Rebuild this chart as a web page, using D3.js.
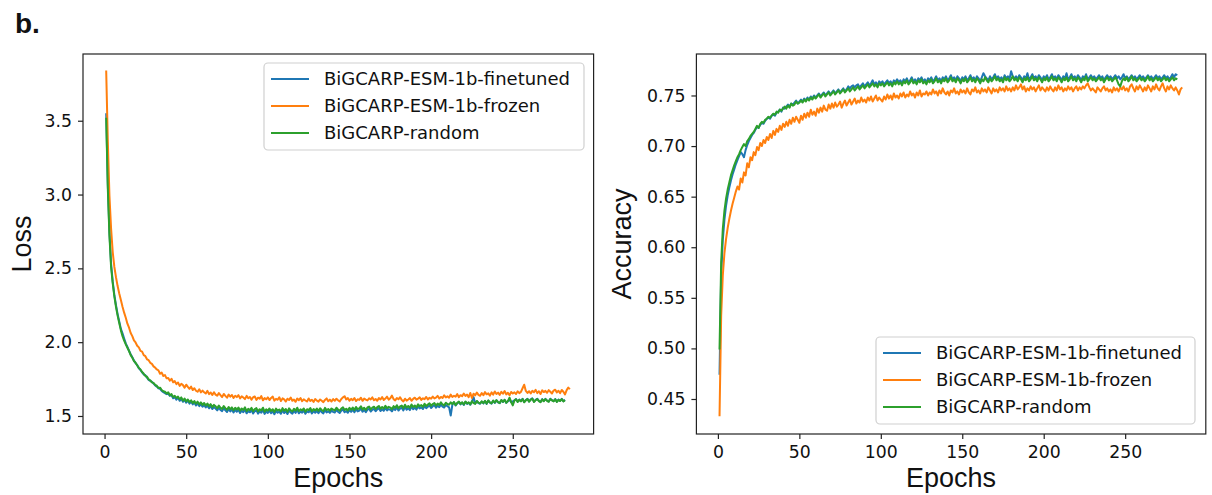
<!DOCTYPE html>
<html>
<head>
<meta charset="utf-8">
<script src="https://cdn.jsdelivr.net/npm/d3@7"></script>
<style>
  body { margin: 0; background: #fff; }
  text { fill: #111; }
</style>
</head>
<body>
<script>
// series labels and tick values
const seriesLabels = ['BiGCARP-ESM-1b-finetuned', 'BiGCARP-ESM-1b-frozen', 'BiGCARP-random']
const epochTicks = [0, 50, 100, 150, 200, 250]
const lossTicks = [1.5, 2.0, 2.5, 3.0, 3.5]
const accTicks = [0.45, 0.50, 0.55, 0.60, 0.65, 0.70, 0.75]

// loss per epoch (epoch 1 first)
const lossFinetuned = [
3.55,3.07,2.74,2.53,2.41,2.32,2.25,2.19,2.14,2.09,
2.06,2.025,1.992,1.968,1.942,1.918,1.898,1.876,1.858,1.845,
1.823,1.812,1.795,1.781,1.776,1.759,1.745,1.738,1.731,1.719,
1.707,1.699,1.688,1.684,1.67,1.662,1.655,1.648,1.651,1.636,
1.641,1.62,1.628,1.611,1.623,1.603,1.617,1.596,1.609,1.59,
1.603,1.584,1.596,1.579,1.59,1.571,1.585,1.567,1.579,1.563,
1.574,1.558,1.57,1.552,1.566,1.547,1.561,1.55,1.538,1.557,
1.541,1.533,1.553,1.538,1.527,1.547,1.531,1.543,1.524,1.541,
1.529,1.542,1.52,1.536,1.526,1.545,1.518,1.533,1.525,1.54,
1.517,1.532,1.538,1.516,1.531,1.522,1.541,1.514,1.53,1.521,
1.536,1.519,1.531,1.512,1.535,1.522,1.529,1.515,1.538,1.52,
1.532,1.513,1.537,1.524,1.516,1.534,1.521,1.541,1.518,1.53,
1.523,1.536,1.515,1.531,1.525,1.539,1.517,1.532,1.522,1.535,
1.519,1.537,1.526,1.518,1.54,1.524,1.532,1.521,1.536,1.528,
1.523,1.541,1.529,1.52,1.536,1.544,1.526,1.534,1.522,1.54,
1.528,1.542,1.525,1.546,1.531,1.537,1.551,1.529,1.541,1.526,
1.543,1.549,1.53,1.542,1.548,1.532,1.545,1.553,1.534,1.546,
1.535,1.554,1.538,1.547,1.542,1.531,1.552,1.54,1.558,1.537,
1.55,1.556,1.538,1.561,1.543,1.553,1.54,1.563,1.546,1.556,
1.543,1.564,1.551,1.559,1.547,1.568,1.553,1.562,1.571,1.554,
1.566,1.573,1.556,1.569,1.56,1.578,1.563,1.557,1.575,1.566,
1.558,1.503,1.576,1.592,1.571,1.586,1.594,1.579,1.59,1.575,
1.595,1.582,1.59,1.576,1.597,1.628,1.584,1.6,1.588,1.583,
1.597,1.585,1.601,1.582,1.604,1.59,1.584,1.603,1.589,1.606,
1.593,1.587,1.607,1.595,1.609,1.589,1.6,1.611,1.594,1.598,
1.606,1.615,1.597,1.611,1.601,1.617,1.595,1.608,1.616,1.599,
1.612,1.619,1.597,1.609,1.617,1.603,1.595,1.614,1.602,1.616,
1.605,1.598,1.617,1.607,1.601,1.615,1.597,1.611,1.603,1.616,
1.601,1.609
]
const lossFrozen = [
3.84,3.36,2.99,2.77,2.61,2.51,2.44,2.38,2.33,2.285,
2.24,2.2,2.165,2.125,2.098,2.062,2.041,2.012,1.998,1.976,
1.965,1.941,1.936,1.912,1.905,1.884,1.878,1.86,1.853,1.836,
1.828,1.815,1.809,1.786,1.794,1.771,1.777,1.755,1.758,1.739,
1.752,1.728,1.736,1.716,1.727,1.704,1.718,1.709,1.692,1.712,
1.697,1.684,1.699,1.676,1.688,1.671,1.664,1.681,1.66,1.672,
1.661,1.652,1.67,1.648,1.659,1.642,1.661,1.645,1.637,1.655,
1.641,1.628,1.649,1.636,1.624,1.645,1.631,1.642,1.622,1.637,
1.628,1.641,1.619,1.633,1.625,1.614,1.636,1.62,1.629,1.611,
1.627,1.632,1.609,1.624,1.617,1.635,1.606,1.621,1.613,1.626,
1.608,1.622,1.631,1.604,1.616,1.61,1.627,1.601,1.619,1.612,
1.598,1.617,1.608,1.625,1.603,1.611,1.596,1.618,1.607,1.622,
1.6,1.613,1.605,1.598,1.619,1.602,1.61,1.595,1.615,1.604,
1.597,1.612,1.603,1.594,1.609,1.619,1.6,1.611,1.598,1.614,
1.603,1.617,1.607,1.598,1.615,1.626,1.634,1.612,1.621,1.604,
1.616,1.607,1.622,1.601,1.613,1.609,1.624,1.603,1.618,1.611,
1.605,1.62,1.612,1.626,1.607,1.615,1.603,1.621,1.612,1.628,
1.609,1.618,1.631,1.611,1.62,1.638,1.614,1.606,1.622,1.613,
1.627,1.608,1.599,1.617,1.604,1.612,1.621,1.603,1.616,1.624,
1.611,1.618,1.626,1.609,1.62,1.614,1.629,1.612,1.623,1.617,
1.631,1.619,1.625,1.636,1.618,1.629,1.622,1.64,1.626,1.633,
1.624,1.645,1.629,1.637,1.631,1.648,1.627,1.641,1.634,1.652,
1.636,1.645,1.628,1.656,1.622,1.651,1.64,1.659,1.643,1.637,
1.655,1.641,1.662,1.647,1.653,1.638,1.66,1.645,1.666,1.649,
1.658,1.643,1.664,1.651,1.669,1.646,1.657,1.64,1.663,1.652,
1.66,1.649,1.667,1.655,1.663,1.688,1.712,1.67,1.656,1.668,
1.652,1.671,1.661,1.677,1.655,1.668,1.649,1.674,1.662,1.67,
1.657,1.675,1.664,1.652,1.672,1.678,1.66,1.671,1.655,1.676,
1.664,1.646,1.675,1.692,1.682
]
const lossRandom = [
3.52,3.04,2.72,2.51,2.40,2.31,2.24,2.18,2.13,2.08,
2.04,2.01,1.985,1.962,1.94,1.912,1.895,1.872,1.861,1.842,
1.826,1.815,1.798,1.786,1.771,1.766,1.748,1.742,1.728,1.724,
1.71,1.705,1.69,1.692,1.676,1.668,1.664,1.652,1.66,1.641,
1.648,1.629,1.637,1.622,1.631,1.613,1.626,1.604,1.618,1.599,
1.612,1.594,1.606,1.588,1.601,1.583,1.597,1.579,1.592,1.575,
1.588,1.571,1.584,1.567,1.58,1.56,1.575,1.566,1.552,1.571,
1.556,1.547,1.567,1.553,1.542,1.561,1.546,1.558,1.539,1.556,
1.544,1.557,1.536,1.551,1.541,1.559,1.533,1.548,1.54,1.555,
1.532,1.547,1.553,1.531,1.546,1.538,1.556,1.529,1.545,1.536,
1.551,1.534,1.546,1.527,1.55,1.537,1.544,1.53,1.553,1.535,
1.547,1.528,1.552,1.539,1.531,1.549,1.536,1.556,1.533,1.545,
1.538,1.551,1.529,1.546,1.54,1.554,1.532,1.547,1.537,1.55,
1.534,1.552,1.541,1.533,1.555,1.539,1.547,1.536,1.551,1.543,
1.538,1.556,1.544,1.535,1.551,1.559,1.541,1.549,1.537,1.555,
1.543,1.557,1.54,1.561,1.546,1.552,1.566,1.544,1.556,1.541,
1.558,1.564,1.545,1.557,1.563,1.547,1.56,1.568,1.549,1.561,
1.55,1.569,1.553,1.562,1.557,1.546,1.567,1.555,1.573,1.552,
1.565,1.571,1.553,1.576,1.558,1.568,1.555,1.578,1.561,1.571,
1.558,1.579,1.566,1.574,1.562,1.583,1.568,1.577,1.586,1.569,
1.581,1.588,1.571,1.584,1.575,1.593,1.578,1.572,1.59,1.581,
1.576,1.592,1.581,1.595,1.574,1.589,1.597,1.582,1.593,1.578,
1.598,1.585,1.593,1.579,1.6,1.588,1.582,1.602,1.59,1.585,
1.599,1.587,1.603,1.584,1.605,1.592,1.586,1.604,1.591,1.607,
1.594,1.588,1.608,1.596,1.61,1.59,1.601,1.624,1.595,1.572,
1.604,1.613,1.595,1.609,1.599,1.615,1.593,1.606,1.614,1.597,
1.61,1.617,1.595,1.607,1.615,1.601,1.593,1.612,1.6,1.614,
1.603,1.596,1.615,1.605,1.599,1.613,1.595,1.609,1.601,1.614,
1.599,1.607
]

// accuracy per epoch (epoch 1 first)
const accFinetuned = [
0.474,0.572,0.607,0.627,0.641,0.651,0.659,0.666,0.672,0.677,
0.682,0.686,0.690,0.694,0.692,0.689,0.696,0.701,0.705,0.708,
0.711,0.713,0.716,0.719,0.718,0.721,0.723,0.722,0.725,0.727,
0.728,0.727,0.73,0.731,0.73,0.733,0.734,0.736,0.734,0.738,
0.737,0.739,0.741,0.739,0.742,0.741,0.743,0.745,0.742,0.744,
0.746,0.744,0.747,0.745,0.748,0.746,0.749,0.747,0.75,0.748,
0.75,0.752,0.749,0.751,0.753,0.75,0.752,0.754,0.751,0.753,
0.755,0.752,0.754,0.756,0.753,0.755,0.757,0.754,0.756,0.759,
0.757,0.759,0.76,0.758,0.76,0.761,0.758,0.76,0.762,0.759,
0.761,0.763,0.76,0.762,0.765,0.761,0.763,0.76,0.764,0.762,
0.764,0.761,0.763,0.765,0.762,0.764,0.761,0.765,0.763,0.766,
0.763,0.765,0.762,0.766,0.764,0.767,0.763,0.765,0.768,0.764,
0.766,0.763,0.767,0.765,0.768,0.764,0.766,0.763,0.767,0.765,
0.768,0.764,0.766,0.769,0.765,0.767,0.764,0.768,0.766,0.769,
0.765,0.767,0.77,0.766,0.768,0.765,0.769,0.767,0.764,0.768,
0.766,0.769,0.765,0.767,0.77,0.766,0.768,0.765,0.769,0.767,
0.764,0.768,0.772,0.769,0.767,0.765,0.769,0.766,0.768,0.771,
0.767,0.769,0.766,0.768,0.765,0.77,0.767,0.769,0.766,0.774,
0.769,0.767,0.769,0.766,0.77,0.768,0.765,0.769,0.767,0.772,
0.766,0.768,0.771,0.767,0.769,0.766,0.77,0.768,0.765,0.769,
0.767,0.77,0.766,0.768,0.771,0.767,0.769,0.766,0.77,0.768,
0.765,0.769,0.767,0.772,0.766,0.768,0.771,0.767,0.769,0.766,
0.77,0.768,0.765,0.769,0.767,0.771,0.766,0.768,0.77,0.767,
0.769,0.766,0.768,0.77,0.767,0.769,0.765,0.768,0.77,0.767,
0.769,0.766,0.768,0.77,0.767,0.769,0.766,0.768,0.771,0.767,
0.769,0.766,0.768,0.77,0.767,0.769,0.766,0.768,0.77,0.767,
0.769,0.766,0.768,0.77,0.767,0.769,0.766,0.768,0.77,0.767,
0.769,0.766,0.768,0.77,0.767,0.769,0.766,0.768,0.771,0.768,
0.771,0.77
]
const accFrozen = [
0.433,0.532,0.572,0.594,0.608,0.619,0.628,0.636,0.643,0.649,
0.655,0.66,0.657,0.668,0.664,0.674,0.671,0.683,0.679,0.689,
0.686,0.694,0.691,0.699,0.696,0.703,0.7,0.706,0.703,0.709,
0.706,0.712,0.708,0.715,0.711,0.717,0.714,0.72,0.716,0.722,
0.719,0.724,0.72,0.726,0.722,0.728,0.724,0.729,0.726,0.723,
0.73,0.726,0.732,0.728,0.733,0.729,0.736,0.731,0.734,0.73,
0.737,0.733,0.738,0.734,0.74,0.736,0.735,0.741,0.737,0.742,
0.738,0.743,0.739,0.741,0.744,0.738,0.742,0.745,0.74,0.743,
0.746,0.741,0.744,0.747,0.742,0.745,0.743,0.748,0.744,0.746,
0.743,0.748,0.745,0.749,0.744,0.747,0.75,0.745,0.748,0.746,
0.744,0.749,0.746,0.751,0.747,0.75,0.746,0.752,0.748,0.75,
0.747,0.752,0.749,0.753,0.748,0.751,0.749,0.754,0.75,0.752,
0.748,0.753,0.75,0.755,0.749,0.752,0.751,0.754,0.75,0.753,
0.751,0.756,0.752,0.754,0.75,0.755,0.752,0.757,0.753,0.751,
0.754,0.75,0.755,0.753,0.757,0.752,0.754,0.751,0.756,0.753,
0.755,0.752,0.757,0.753,0.751,0.756,0.754,0.758,0.753,0.755,
0.752,0.757,0.754,0.756,0.753,0.758,0.755,0.752,0.757,0.754,
0.756,0.753,0.758,0.755,0.757,0.754,0.759,0.755,0.757,0.754,
0.758,0.755,0.76,0.756,0.758,0.761,0.756,0.759,0.754,0.757,
0.755,0.759,0.756,0.758,0.754,0.757,0.76,0.755,0.758,0.756,
0.754,0.758,0.755,0.759,0.756,0.754,0.758,0.755,0.76,0.756,
0.758,0.754,0.757,0.755,0.759,0.756,0.758,0.754,0.757,0.759,
0.755,0.758,0.756,0.759,0.757,0.76,0.762,0.758,0.755,0.757,
0.755,0.753,0.758,0.756,0.754,0.757,0.759,0.755,0.757,0.754,
0.756,0.753,0.758,0.755,0.757,0.754,0.758,0.756,0.759,0.755,
0.757,0.754,0.759,0.761,0.757,0.754,0.759,0.756,0.76,0.757,
0.754,0.758,0.755,0.76,0.757,0.754,0.759,0.756,0.761,0.757,
0.755,0.759,0.762,0.757,0.754,0.759,0.756,0.76,0.757,0.755,
0.758,0.755,0.751,0.756,0.758
]
const accRandom = [
0.499,0.585,0.618,0.636,0.648,0.657,0.664,0.671,0.676,0.681,
0.685,0.689,0.692,0.696,0.699,0.702,0.700,0.705,0.707,0.710,
0.712,0.714,0.717,0.72,0.718,0.722,0.724,0.723,0.726,0.727,
0.729,0.728,0.73,0.732,0.731,0.734,0.733,0.736,0.735,0.737,
0.739,0.737,0.74,0.738,0.742,0.74,0.741,0.744,0.742,0.743,
0.745,0.743,0.746,0.744,0.747,0.745,0.748,0.746,0.749,0.747,
0.749,0.751,0.748,0.75,0.752,0.749,0.751,0.753,0.75,0.752,
0.754,0.751,0.753,0.755,0.752,0.754,0.756,0.753,0.755,0.757,
0.754,0.756,0.758,0.755,0.757,0.759,0.756,0.758,0.76,0.757,
0.759,0.761,0.758,0.76,0.762,0.759,0.761,0.758,0.762,0.76,
0.762,0.759,0.761,0.763,0.76,0.762,0.759,0.763,0.761,0.764,
0.761,0.763,0.76,0.764,0.762,0.765,0.761,0.763,0.766,0.762,
0.764,0.761,0.765,0.763,0.766,0.762,0.764,0.761,0.765,0.763,
0.766,0.762,0.764,0.767,0.763,0.765,0.762,0.766,0.764,0.767,
0.763,0.765,0.768,0.764,0.766,0.763,0.767,0.765,0.762,0.766,
0.764,0.767,0.763,0.765,0.768,0.764,0.766,0.763,0.767,0.765,
0.762,0.766,0.764,0.768,0.765,0.763,0.767,0.764,0.766,0.769,
0.765,0.767,0.764,0.766,0.763,0.768,0.765,0.767,0.764,0.766,
0.769,0.765,0.767,0.764,0.768,0.766,0.763,0.767,0.765,0.768,
0.764,0.766,0.769,0.765,0.767,0.764,0.768,0.766,0.763,0.767,
0.765,0.768,0.764,0.766,0.769,0.765,0.767,0.764,0.768,0.766,
0.763,0.767,0.765,0.768,0.764,0.766,0.769,0.765,0.767,0.764,
0.768,0.766,0.763,0.767,0.765,0.769,0.764,0.766,0.768,0.765,
0.767,0.764,0.766,0.768,0.765,0.767,0.763,0.766,0.768,0.765,
0.767,0.764,0.766,0.768,0.765,0.761,0.759,0.764,0.767,0.765,
0.768,0.764,0.766,0.769,0.765,0.767,0.764,0.766,0.768,0.765,
0.767,0.764,0.766,0.769,0.765,0.767,0.764,0.766,0.768,0.765,
0.767,0.764,0.766,0.768,0.765,0.767,0.764,0.766,0.768,0.765,
0.767,0.766
]

const colors = ['#1f77b4', '#ff7f0e', '#2ca02c']
const tickFont = 'DejaVu Sans, sans-serif'
const labelFont = 'Liberation Sans, Arial, sans-serif'

const svg = d3.select('body').append('svg')
  .attr('width', 1212)
  .attr('height', 495)

svg.append('text')
  .attr('x', 15)
  .attr('y', 33)
  .attr('font-family', labelFont)
  .attr('font-weight', 'bold')
  .attr('font-size', 28)
  .text('b.')

function drawPanel(p) {
  const x = d3.scaleLinear().domain([-13.2, 299.5]).range([p.left, p.right])
  const y = d3.scaleLinear().domain(p.yDomain).range([p.bottom, p.top])
  const g = svg.append('g')

  const line = d3.line()
    .x((d, i) => x(i + 1))
    .y(d => y(d))

  p.series.forEach((vals, k) => {
    g.append('path')
      .datum(vals)
      .attr('d', line)
      .attr('fill', 'none')
      .attr('stroke', colors[k])
      .attr('stroke-width', 2)
      .attr('stroke-linejoin', 'round')
  })

  const xAxis = g.append('g')
    .attr('transform', `translate(0,${p.bottom})`)
    .call(d3.axisBottom(x).tickValues(epochTicks).tickSize(5).tickPadding(7).tickFormat(d3.format('d')))
  const yAxis = g.append('g')
    .attr('transform', `translate(${p.left},0)`)
    .call(d3.axisLeft(y).tickValues(p.yTicks).tickSize(5).tickPadding(6).tickFormat(p.fmt))

  ;[xAxis, yAxis].forEach(a => {
    a.select('.domain').remove()
    a.selectAll('line').attr('stroke', '#222').attr('stroke-width', 1.2)
    a.selectAll('text').attr('font-family', tickFont).attr('font-size', 17.3).attr('fill', '#111')
  })

  g.append('rect')
    .attr('x', p.left)
    .attr('y', p.top)
    .attr('width', p.right - p.left)
    .attr('height', p.bottom - p.top)
    .attr('fill', 'none')
    .attr('stroke', '#222')
    .attr('stroke-width', 1.2)

  g.append('text')
    .attr('x', (p.left + p.right) / 2)
    .attr('y', 487)
    .attr('text-anchor', 'middle')
    .attr('font-family', labelFont)
    .attr('font-size', 27)
    .text('Epochs')

  g.append('text')
    .attr('transform', `translate(${p.yLabelX},${(p.top + p.bottom) / 2}) rotate(-90)`)
    .attr('text-anchor', 'middle')
    .attr('font-family', labelFont)
    .attr('font-size', 27)
    .text(p.yLabel)

  // legend
  const lg = p.legend
  g.append('rect')
    .attr('x', lg.x)
    .attr('y', lg.y)
    .attr('width', lg.w)
    .attr('height', lg.h)
    .attr('rx', 4)
    .attr('fill', 'rgba(255,255,255,0.8)')
    .attr('stroke', '#d0d0d0')
    .attr('stroke-width', 1.2)
  seriesLabels.forEach((name, k) => {
    const cy = lg.y + 16 + k * 27
    g.append('line')
      .attr('x1', lg.x + 7)
      .attr('x2', lg.x + 45)
      .attr('y1', cy)
      .attr('y2', cy)
      .attr('stroke', colors[k])
      .attr('stroke-width', 2)
    g.append('text')
      .attr('x', lg.x + 60)
      .attr('y', cy)
      .attr('dy', '0.36em')
      .attr('font-family', tickFont)
      .attr('font-size', 18)
      .text(name)
  })
}

drawPanel({
  left: 83, right: 593.6, top: 54, bottom: 434,
  yDomain: [1.378, 3.952],
  yTicks: lossTicks,
  fmt: d3.format('.1f'),
  yLabel: 'Loss',
  yLabelX: 31,
  series: [lossFinetuned, lossFrozen, lossRandom],
  legend: { x: 264, y: 63, w: 320, h: 87 }
})

drawPanel({
  left: 696.4, right: 1205.8, top: 54, bottom: 434,
  yDomain: [0.4154, 0.791],
  yTicks: accTicks,
  fmt: d3.format('.2f'),
  yLabel: 'Accuracy',
  yLabelX: 631,
  series: [accFinetuned, accFrozen, accRandom],
  legend: { x: 876, y: 337, w: 319, h: 87 }
})
</script>
</body>
</html>
